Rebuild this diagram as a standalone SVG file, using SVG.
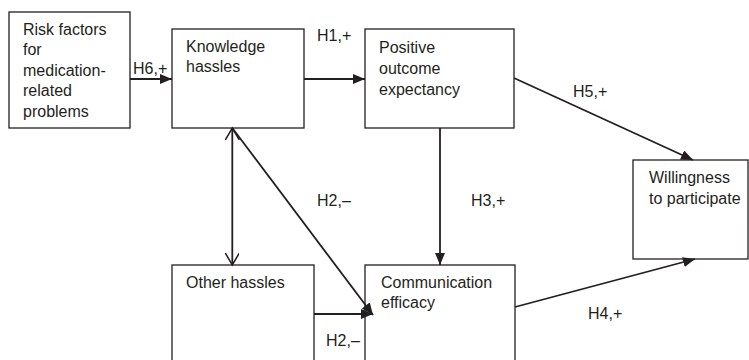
<svg xmlns="http://www.w3.org/2000/svg" width="749" height="360" viewBox="0 0 749 360">
<style>
.box{fill:#fff;stroke:#231f20;stroke-width:1.3}
.t{font-family:"Liberation Sans",Arial,sans-serif;font-size:16px;fill:#231f20}
.c{stroke:#231f20;stroke-width:1.8;fill:none}
</style>
<defs>
<marker id="fa" markerUnits="userSpaceOnUse" markerWidth="13" markerHeight="11" refX="12" refY="5" orient="auto">
<path d="M0,0 L12,5 L0,10 z" fill="#231f20"/>
</marker>
<marker id="oa" markerUnits="userSpaceOnUse" markerWidth="14" markerHeight="16" refX="12" refY="7" orient="auto-start-reverse">
<path d="M0,0 L12,7 L0,14" fill="none" stroke="#231f20" stroke-width="1.5"/>
</marker>
</defs>
<rect width="749" height="360" fill="#fff"/>
<g id="risk">
<rect class="box" x="9" y="12" width="121" height="116"/>
<text class="t" x="23" y="34.5">Risk factors<tspan x="23" dy="20.5">for</tspan><tspan x="23" dy="20.5">medication-</tspan><tspan x="23" dy="20.5">related</tspan><tspan x="23" dy="20.5">problems</tspan></text>
</g>
<g id="knowledge">
<rect class="box" x="172" y="29" width="132" height="99"/>
<text class="t" x="186" y="51.5">Knowledge<tspan x="186" dy="20.5">hassles</tspan></text>
</g>
<g id="positive">
<rect class="box" x="365" y="29" width="149" height="99"/>
<text class="t" x="379" y="52.5">Positive<tspan x="379" dy="21">outcome</tspan><tspan x="379" dy="21">expectancy</tspan></text>
</g>
<g id="willingness">
<rect class="box" x="633" y="160" width="115" height="99"/>
<text class="t" x="649" y="182.5">Willingness<tspan x="649" dy="21">to participate</tspan></text>
</g>
<g id="other">
<rect class="box" x="172" y="265" width="142" height="110"/>
<text class="t" x="186" y="287.5">Other hassles</text>
</g>
<g id="communication">
<rect class="box" x="365" y="265" width="150" height="110"/>
<text class="t" x="381" y="287.5">Communication<tspan x="381" dy="20.5">efficacy</tspan></text>
</g>
<g id="connectors">
<line class="c" x1="130" y1="79" x2="172" y2="79" marker-end="url(#fa)"/>
<line class="c" x1="304" y1="79" x2="365" y2="79" marker-end="url(#fa)"/>
<line class="c" x1="514" y1="78" x2="693" y2="160" marker-end="url(#fa)"/>
<line class="c" x1="440" y1="128" x2="440" y2="265" marker-end="url(#fa)"/>
<line class="c" x1="515" y1="307" x2="695" y2="259" marker-end="url(#fa)"/>
<line class="c" x1="232.3" y1="128" x2="232.3" y2="265" marker-start="url(#oa)" marker-end="url(#oa)"/>
<line class="c" x1="232.3" y1="128" x2="373" y2="315" marker-end="url(#fa)"/>
<line class="c" x1="314" y1="314" x2="373" y2="314" marker-end="url(#fa)"/>
<text class="t" x="133" y="74">H6,+</text>
<text class="t" x="317" y="41">H1,+</text>
<text class="t" x="573" y="97">H5,+</text>
<text class="t" x="471" y="206">H3,+</text>
<text class="t" x="317" y="206">H2,–</text>
<text class="t" x="588" y="319">H4,+</text>
<text class="t" x="326" y="346">H2,–</text>
</g>
</svg>
